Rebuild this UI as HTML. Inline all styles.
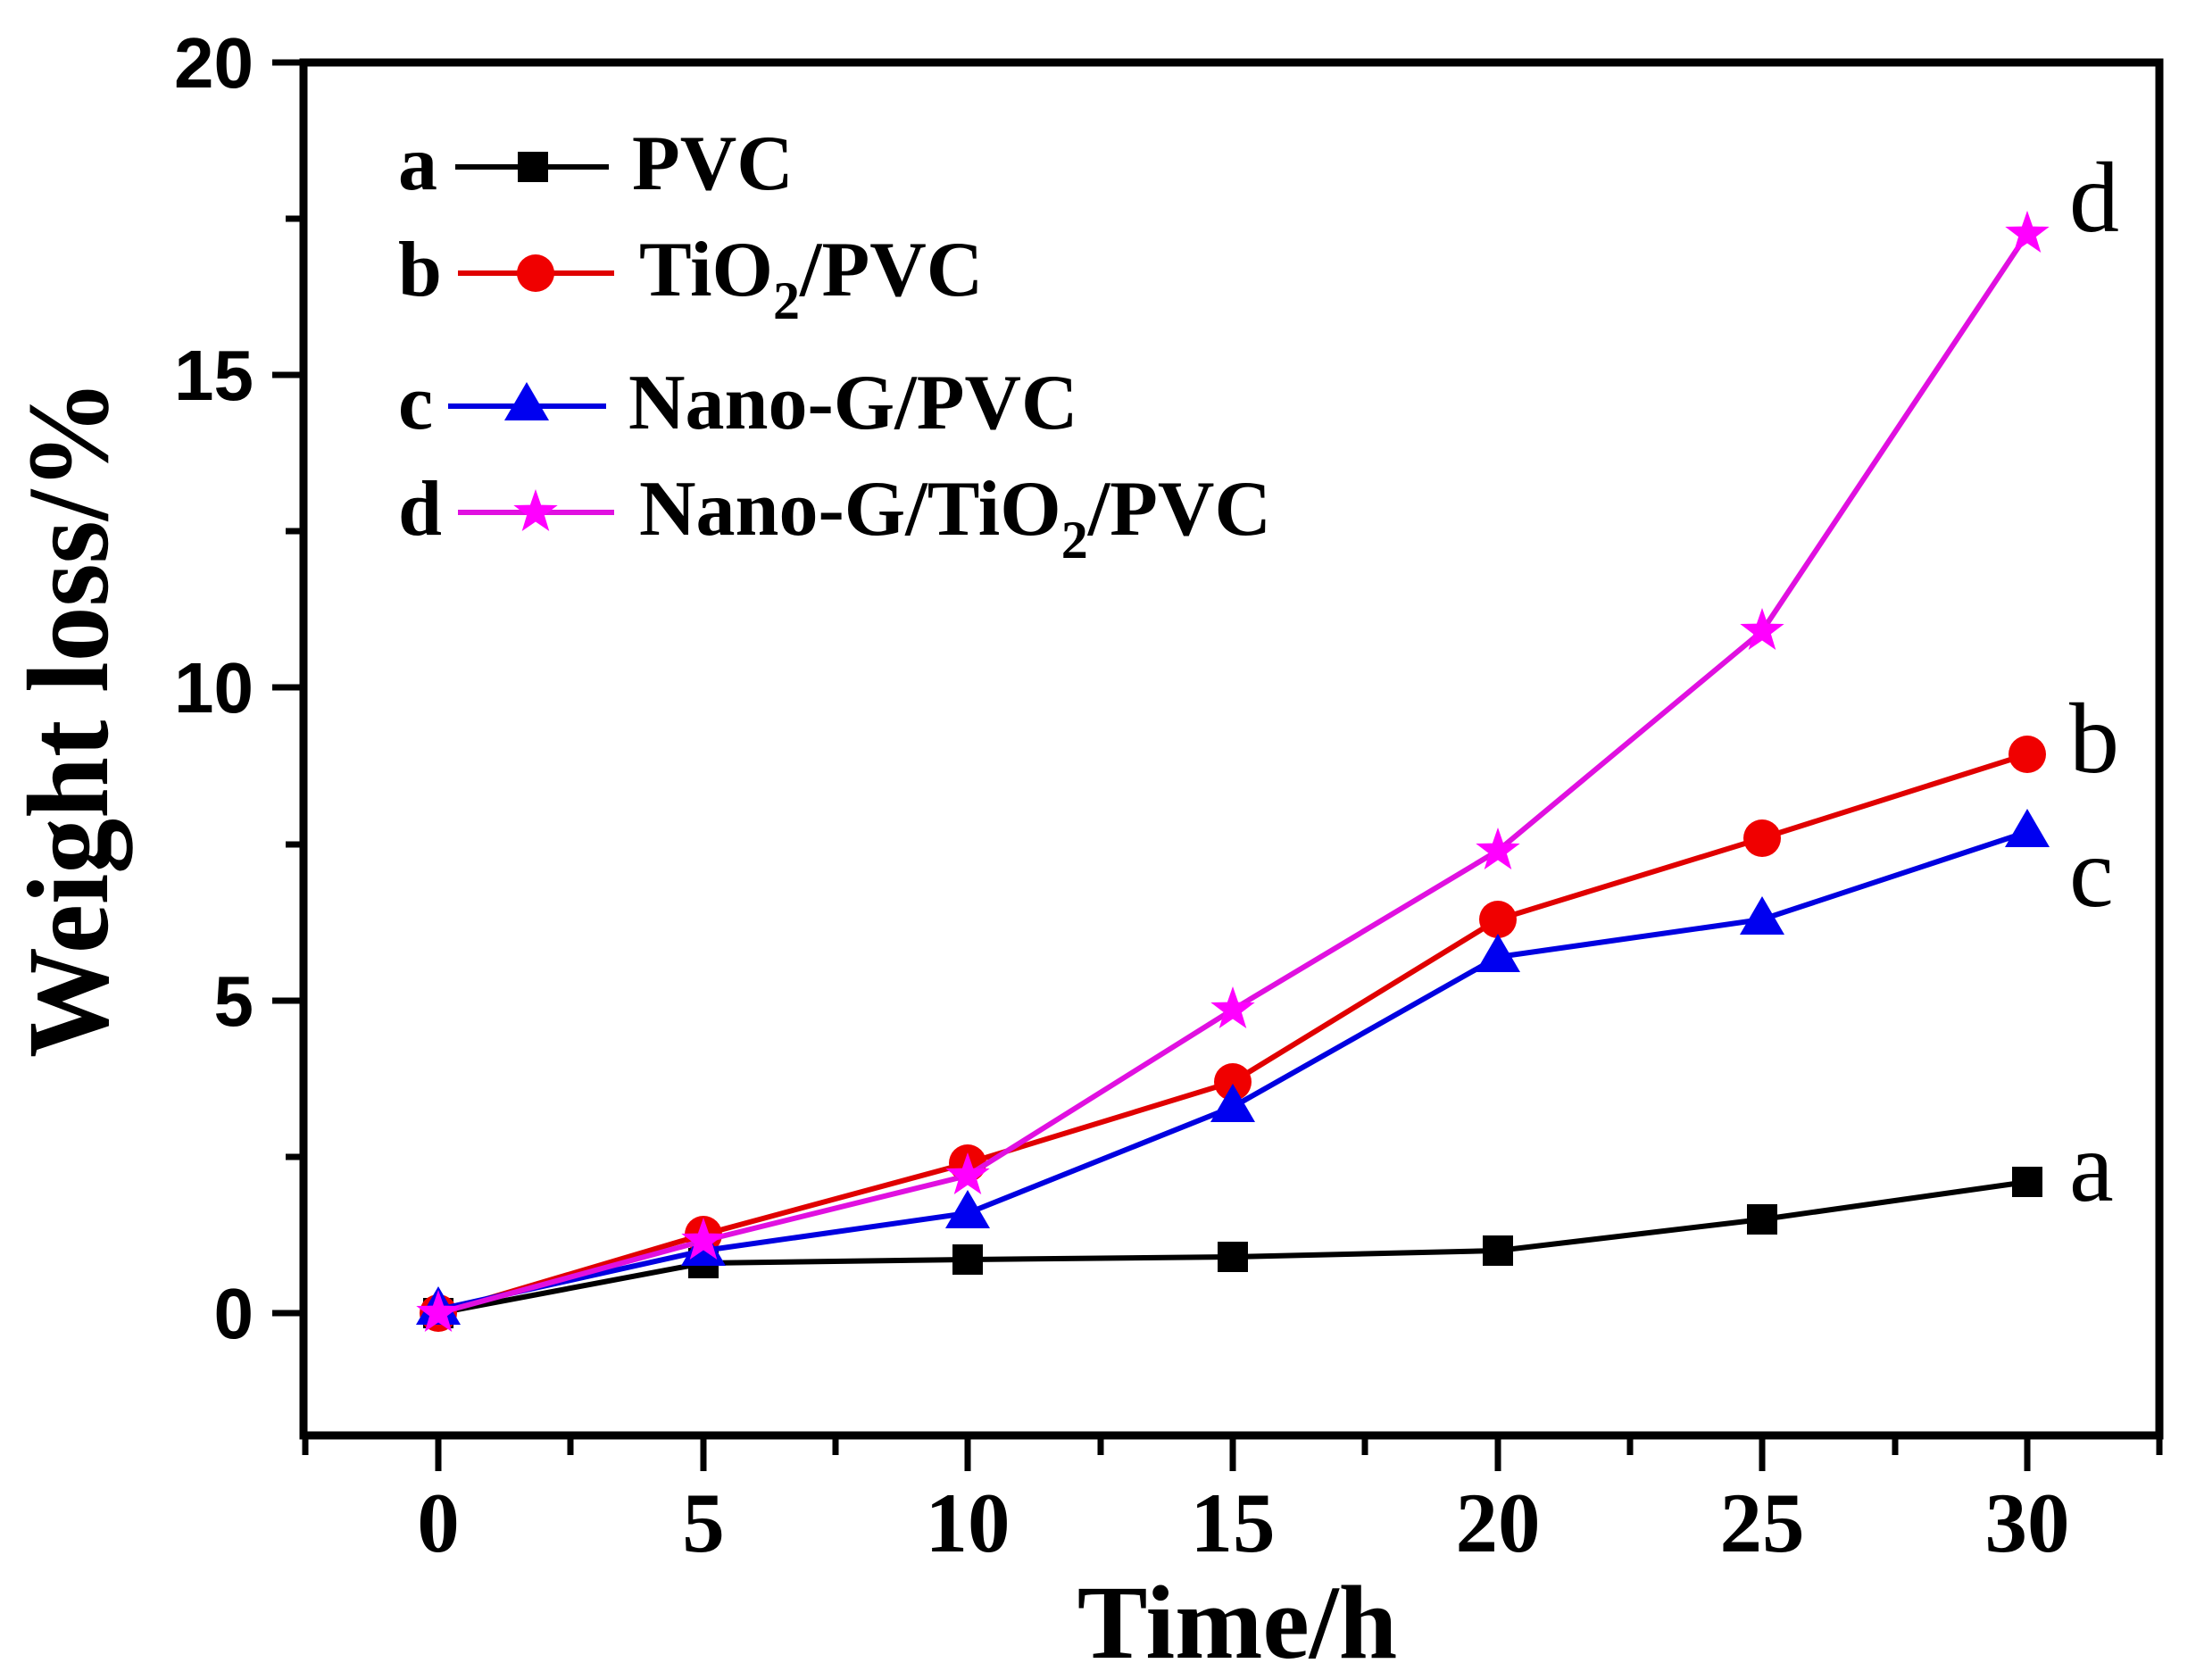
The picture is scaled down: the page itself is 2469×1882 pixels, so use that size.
<!DOCTYPE html>
<html><head><meta charset="utf-8"><style>html,body{margin:0;padding:0;background:#fff}svg{display:block}</style></head>
<body>
<svg width="2469" height="1882" viewBox="0 0 2469 1882" xmlns="http://www.w3.org/2000/svg">
<rect width="2469" height="1882" fill="#fff"/>
<g stroke="#000" fill="none">
<rect x="340" y="70" width="2079" height="1538" stroke-width="9"/>
</g>
<g stroke="#000" stroke-width="7">
<!-- y ticks -->
<line x1="305" y1="70" x2="340" y2="70"/>
<line x1="320" y1="245" x2="340" y2="245"/>
<line x1="305" y1="420" x2="340" y2="420"/>
<line x1="320" y1="595" x2="340" y2="595"/>
<line x1="305" y1="770" x2="340" y2="770"/>
<line x1="320" y1="946" x2="340" y2="946"/>
<line x1="305" y1="1121" x2="340" y2="1121"/>
<line x1="320" y1="1296" x2="340" y2="1296"/>
<line x1="305" y1="1471" x2="340" y2="1471"/>
<!-- x ticks -->
<line x1="342" y1="1608" x2="342" y2="1630"/>
<line x1="491" y1="1608" x2="491" y2="1648"/>
<line x1="639" y1="1608" x2="639" y2="1630"/>
<line x1="788" y1="1608" x2="788" y2="1648"/>
<line x1="936" y1="1608" x2="936" y2="1630"/>
<line x1="1084" y1="1608" x2="1084" y2="1648"/>
<line x1="1233" y1="1608" x2="1233" y2="1630"/>
<line x1="1381" y1="1608" x2="1381" y2="1648"/>
<line x1="1529" y1="1608" x2="1529" y2="1630"/>
<line x1="1678" y1="1608" x2="1678" y2="1648"/>
<line x1="1826" y1="1608" x2="1826" y2="1630"/>
<line x1="1974" y1="1608" x2="1974" y2="1648"/>
<line x1="2123" y1="1608" x2="2123" y2="1630"/>
<line x1="2271" y1="1608" x2="2271" y2="1648"/>
<line x1="2419" y1="1608" x2="2419" y2="1630"/>
</g>
<g font-family="Liberation Sans, sans-serif" font-weight="bold" font-size="80" text-anchor="end">
<text x="284" y="98">20</text>
<text x="284" y="448">15</text>
<text x="284" y="798">10</text>
<text x="284" y="1149">5</text>
<text x="284" y="1499">0</text>
</g>
<g font-family="Liberation Serif, serif" font-weight="bold" font-size="95" text-anchor="middle">
<text x="491" y="1738">0</text>
<text x="788" y="1738">5</text>
<text x="1084" y="1738">10</text>
<text x="1381" y="1738">15</text>
<text x="1678" y="1738">20</text>
<text x="1974" y="1738">25</text>
<text x="2271" y="1738">30</text>
</g>
<text x="1386" y="1857" font-family="Liberation Serif, serif" font-weight="bold" font-size="118" text-anchor="middle">Time/h</text>
<text transform="translate(120,805) rotate(-90)" font-family="Liberation Serif, serif" font-weight="bold" font-size="130" text-anchor="middle" textLength="760" lengthAdjust="spacingAndGlyphs">Weight loss/%</text>

<defs>
<polygon id="star" points="0,-26 6.1,-8.4 24.7,-8 9.9,3.2 15.3,21 0,10.5 -15.3,21 -9.9,3.2 -24.7,-8 -6.1,-8.4"/>
</defs>

<!-- series a -->
<polyline fill="none" stroke="#000" stroke-width="6" points="491,1471 788,1415 1084,1411 1381,1408 1678,1401 1974,1366 2271,1324"/>
<g fill="#000">
<rect x="474" y="1454" width="34" height="34"/><rect x="771" y="1398" width="34" height="34"/><rect x="1067" y="1394" width="34" height="34"/><rect x="1364" y="1391" width="34" height="34"/><rect x="1661" y="1384" width="34" height="34"/><rect x="1957" y="1349" width="34" height="34"/><rect x="2254" y="1307" width="34" height="34"/>
</g>
<!-- series b -->
<polyline fill="none" stroke="#e00000" stroke-width="6" points="491,1471 788,1383 1084,1303 1381,1212 1678,1030 1974,939 2271,845"/>
<g fill="#f00000">
<circle cx="491" cy="1471" r="21"/><circle cx="788" cy="1383" r="21"/><circle cx="1084" cy="1303" r="21"/><circle cx="1381" cy="1212" r="21"/><circle cx="1678" cy="1030" r="21"/><circle cx="1974" cy="939" r="21"/><circle cx="2271" cy="845" r="21"/>
</g>
<!-- series c -->
<polyline fill="none" stroke="#0000e0" stroke-width="6" points="491,1467 788,1401 1084,1359 1381,1240 1678,1072 1974,1030 2271,932"/>
<g fill="#0000f0">
<polygon points="491,1441 516,1484 466,1484"/><polygon points="788,1375 813,1418 763,1418"/><polygon points="1084,1333 1109,1376 1059,1376"/><polygon points="1381,1214 1406,1257 1356,1257"/><polygon points="1678,1046 1703,1089 1653,1089"/><polygon points="1974,1004 1999,1047 1949,1047"/><polygon points="2271,906 2296,949 2246,949"/>
</g>
<!-- series d -->
<polyline fill="none" stroke="#e010e0" stroke-width="6" points="491,1471 788,1390 1084,1317 1381,1131 1678,953 1974,707 2271,262"/>
<g fill="#ff00ff">
<use href="#star" x="491" y="1471"/><use href="#star" x="788" y="1390"/><use href="#star" x="1084" y="1317"/><use href="#star" x="1381" y="1131"/><use href="#star" x="1678" y="953"/><use href="#star" x="1974" y="707"/><use href="#star" x="2271" y="262"/>
</g>

<!-- right labels -->
<g font-family="Liberation Serif, serif" font-size="112">
<text x="2318" y="259">d</text>
<text x="2318" y="865">b</text>
<text x="2318" y="1015">c</text>
<text x="2318" y="1345">a</text>
</g>

<!-- legend -->
<g font-family="Liberation Serif, serif" font-weight="bold" font-size="88">
<text x="446" y="212">a</text>
<line x1="510" y1="187" x2="682" y2="187" stroke="#000" stroke-width="6"/>
<rect x="580" y="170" width="34" height="34" fill="#000"/>
<text x="708" y="212">PVC</text>

<text x="446" y="331">b</text>
<line x1="513" y1="306" x2="688" y2="306" stroke="#e00000" stroke-width="6"/>
<circle cx="600" cy="306" r="21" fill="#f00000"/>
<text x="716" y="331">TiO<tspan font-size="60" dy="26">2</tspan><tspan dy="-26">/PVC</tspan></text>

<text x="446" y="480">c</text>
<line x1="502" y1="455" x2="679" y2="455" stroke="#0000e0" stroke-width="6"/>
<polygon points="590,428 615,471 565,471" fill="#0000f0"/>
<text x="704" y="480">Nano-G/PVC</text>

<text x="446" y="599">d</text>
<line x1="513" y1="574" x2="688" y2="574" stroke="#e010e0" stroke-width="6"/>
<use href="#star" x="600" y="574" fill="#ff00ff"/>
<text x="716" y="599">Nano-G/TiO<tspan font-size="60" dy="26">2</tspan><tspan dy="-26">/PVC</tspan></text>
</g>
</svg>
</body></html>
